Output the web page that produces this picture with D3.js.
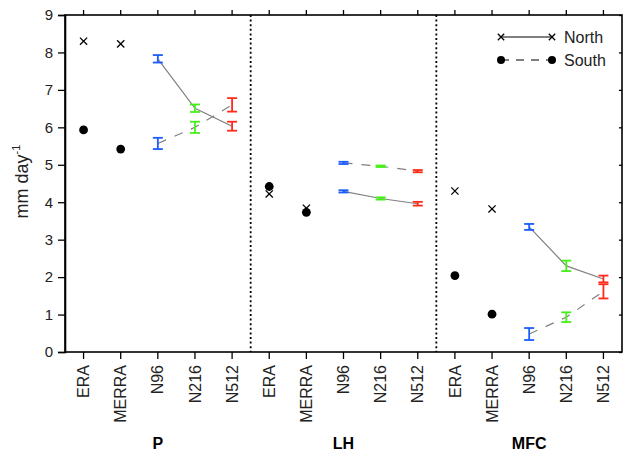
<!DOCTYPE html>
<html>
<head>
<meta charset="utf-8">
<script src="https://cdn.jsdelivr.net/npm/d3@7"></script>
<style>
  html, body { margin: 0; padding: 0; background: #fff; }
  svg { display: block; font-family: "Liberation Sans", Arial, sans-serif; }
</style>
</head>
<body>
<svg id="chart" width="623" height="456"></svg>
<script>
// Variables and data sources
const groups = ["P", "LH", "MFC"];
const sources = ["ERA", "MERRA", "N96", "N216", "N512"];
const reanalyses = ["ERA", "MERRA"];
const models = ["N96", "N216", "N512"];
const modelColors = ["#1a5cff", "#45f01a", "#ff2a1a"];

// North means per group, in source order
const northP   = [8.30, 8.23, 7.83, 6.51, 6.03];
const northLH  = [4.22, 3.84, 4.29, 4.10, 3.96];
const northMFC = [4.30, 3.82, 3.34, 2.30, 1.95];
// South means per group
const southP   = [5.93, 5.42, 5.57, 6.00, 6.60];
const southLH  = [4.42, 3.73, 5.05, 4.96, 4.83];
const southMFC = [2.04, 1.01, 0.48, 0.93, 1.62];
// Ensemble spread (half-range) for the model runs
const northErrP   = [0, 0, 0.10, 0.10, 0.12];
const northErrLH  = [0, 0, 0.03, 0.03, 0.05];
const northErrMFC = [0, 0, 0.08, 0.14, 0.09];
const southErrP   = [0, 0, 0.15, 0.15, 0.18];
const southErrLH  = [0, 0, 0.03, 0.02, 0.03];
const southErrMFC = [0, 0, 0.16, 0.13, 0.19];

const yTicks = [0, 1, 2, 3, 4, 5, 6, 7, 8, 9];

const northByGroup = { P: northP, LH: northLH, MFC: northMFC };
const southByGroup = { P: southP, LH: southLH, MFC: southMFC };
const northErrByGroup = { P: northErrP, LH: northErrLH, MFC: northErrMFC };
const southErrByGroup = { P: southErrP, LH: southErrLH, MFC: southErrMFC };

const margin = { top: 15, right: 1, bottom: 104, left: 65 };
const W = 623, H = 456;
const iw = W - margin.left - margin.right;
const ih = H - margin.top - margin.bottom;

const svg = d3.select("#chart");
const g = svg.append("g").attr("transform", `translate(${margin.left},${margin.top})`);

const keys = [];
groups.forEach(gr => sources.forEach(s => keys.push(gr + "|" + s)));

const x = d3.scaleBand().domain(keys).range([0, iw]).paddingInner(0).paddingOuter(0);
const cx = k => x(k) + x.bandwidth() / 2;
const y = d3.scaleLinear().domain([0, 9]).range([ih, 0]);

// Build records
const records = [];
groups.forEach(gr => {
  sources.forEach((s, i) => {
    records.push({ group: gr, source: s, hemi: "North", v: northByGroup[gr][i], e: northErrByGroup[gr][i], idx: i });
    records.push({ group: gr, source: s, hemi: "South", v: southByGroup[gr][i], e: southErrByGroup[gr][i], idx: i });
  });
});

// Group separators
[1, 2].forEach(j => {
  const xs = x(groups[j] + "|ERA");
  g.append("line")
    .attr("x1", xs).attr("x2", xs).attr("y1", 0).attr("y2", ih)
    .attr("stroke", "#000").attr("stroke-width", 1.8)
    .attr("stroke-dasharray", "2,2.6");
});

// Connecting lines between model runs
const lineGen = d3.line().x(d => cx(d.group + "|" + d.source)).y(d => y(d.v));
groups.forEach(gr => {
  ["North", "South"].forEach(h => {
    const pts = records.filter(r => r.group === gr && r.hemi === h && models.includes(r.source));
    g.append("path")
      .datum(pts)
      .attr("d", lineGen)
      .attr("fill", "none")
      .attr("stroke", "#808080")
      .attr("stroke-width", 1.2)
      .attr("stroke-dasharray", h === "South" ? "9,9" : null);
  });
});

// Model error bars
const capW = 5;
records.filter(r => models.includes(r.source)).forEach(r => {
  const xc = cx(r.group + "|" + r.source);
  const col = modelColors[models.indexOf(r.source)];
  const y0 = y(r.v - r.e), y1 = y(r.v + r.e);
  const eb = g.append("g").attr("stroke", col).attr("stroke-width", 1.8).attr("fill", "none");
  eb.append("line").attr("x1", xc).attr("x2", xc).attr("y1", y0).attr("y2", y1);
  eb.append("line").attr("x1", xc - capW).attr("x2", xc + capW).attr("y1", y0).attr("y2", y0);
  eb.append("line").attr("x1", xc - capW).attr("x2", xc + capW).attr("y1", y1).attr("y2", y1);
});

// Reanalysis markers
function crossMarker(sel, xc, yc, s) {
  sel.append("path")
    .attr("d", `M${xc - s},${yc - s}L${xc + s},${yc + s}M${xc - s},${yc + s}L${xc + s},${yc - s}`)
    .attr("stroke", "#000").attr("stroke-width", 1.3).attr("fill", "none");
}
records.filter(r => reanalyses.includes(r.source)).forEach(r => {
  const xc = cx(r.group + "|" + r.source);
  if (r.hemi === "North") crossMarker(g, xc, y(r.v), 3.6);
  else g.append("circle").attr("cx", xc).attr("cy", y(r.v)).attr("r", 4.4).attr("fill", "#000");
});

// Frame
g.append("rect").attr("x", 0).attr("y", 0).attr("width", iw).attr("height", ih)
  .attr("fill", "none").attr("stroke", "#000").attr("stroke-width", 1.6);

// Left axis
const yAxis = g.append("g").call(d3.axisLeft(y).tickValues(yTicks).tickSize(7).tickPadding(5).tickFormat(d3.format("d")));
yAxis.select(".domain").attr("stroke-width", 1.6);
yAxis.selectAll(".tick line").attr("stroke-width", 1.3);
yAxis.selectAll("text").attr("font-size", 15).attr("fill", "#222").attr("font-family", "Liberation Sans, Arial, sans-serif");

// Right axis (inner ticks)
const yAxisR = g.append("g").attr("transform", `translate(${iw},0)`)
  .call(d3.axisRight(y).tickValues(yTicks).tickSizeInner(-3).tickSizeOuter(0).tickFormat(""));
yAxisR.select(".domain").remove();
yAxisR.selectAll(".tick line").attr("stroke-width", 1.3);

// Bottom axis
const xAxis = g.append("g").attr("transform", `translate(0,${ih})`)
  .call(d3.axisBottom(x).tickSize(7).tickSizeOuter(0).tickFormat(k => k.split("|")[1]));
xAxis.select(".domain").remove();
xAxis.selectAll(".tick line").attr("stroke-width", 1.3);
xAxis.selectAll("text")
  .attr("font-size", 16).attr("fill", "#222")
  .attr("font-family", "Liberation Sans, Arial, sans-serif")
  .attr("text-anchor", "end")
  .attr("dy", "0.35em")
  .attr("transform", "translate(0,4) rotate(-90)")
  .attr("x", -9).attr("y", 0);

// Top axis
const xAxisT = g.append("g")
  .call(d3.axisTop(x).tickSize(5).tickSizeOuter(0).tickFormat(""));
xAxisT.select(".domain").remove();
xAxisT.selectAll(".tick line").attr("stroke-width", 1.3);

// Group labels
groups.forEach(gr => {
  g.append("text")
    .attr("x", cx(gr + "|N96"))
    .attr("y", ih + 97)
    .attr("text-anchor", "middle")
    .attr("font-size", 16).attr("font-weight", "bold").attr("fill", "#000")
    .text(gr);
});

// Y-axis title
const yt = svg.append("text")
  .attr("transform", `translate(28,${margin.top + ih / 2 - 2}) rotate(-90)`)
  .attr("text-anchor", "middle")
  .attr("font-size", 18).attr("fill", "#222");
yt.append("tspan").text("mm day");
yt.append("tspan").attr("font-size", 11).attr("dy", -8).text("-1");

// Legend
const lg = svg.append("g").attr("transform", "translate(501,37)");
[["North", null], ["South", "8,7"]].forEach(([name, dash], i) => {
  const row = lg.append("g").attr("transform", `translate(0,${i * 23})`);
  row.append("line").attr("x1", 0).attr("x2", 51).attr("y1", 0).attr("y2", 0)
    .attr("stroke", "#000").attr("stroke-width", 1.2).attr("stroke-dasharray", dash);
  if (name === "North") {
    crossMarker(row, 0, 0, 3.2);
    crossMarker(row, 51, 0, 3.2);
  } else {
    row.append("circle").attr("cx", 0).attr("cy", 0).attr("r", 4).attr("fill", "#000");
    row.append("circle").attr("cx", 51).attr("cy", 0).attr("r", 4).attr("fill", "#000");
  }
  row.append("text").attr("x", 63).attr("y", 0).attr("dy", "0.35em")
    .attr("font-size", 16).attr("fill", "#222").text(name);
});
</script>
</body>
</html>
